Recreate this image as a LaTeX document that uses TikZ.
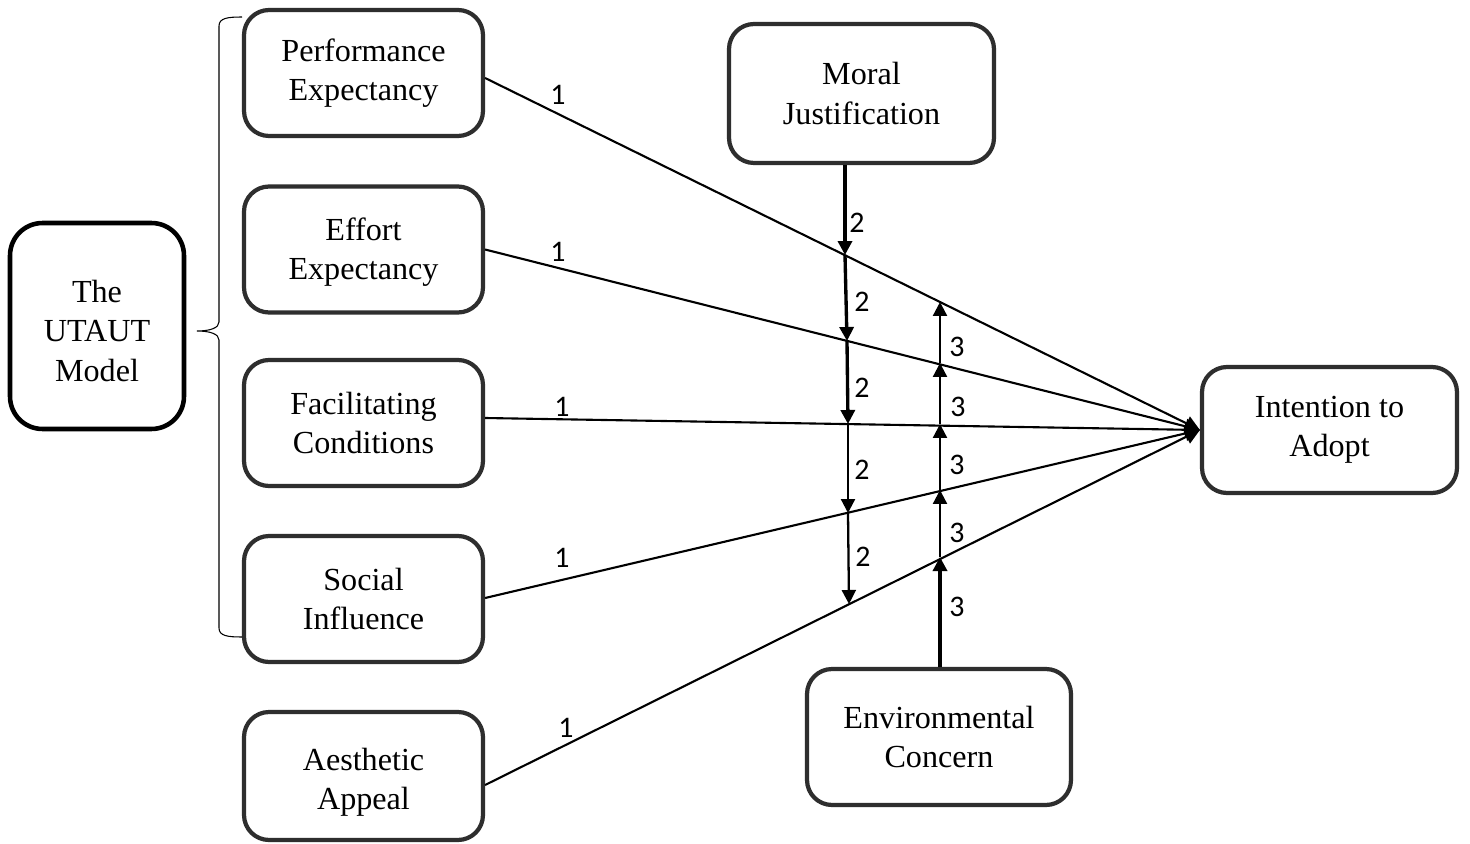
\documentclass[tikz,border=0pt]{standalone}
\usepackage{fontspec}
\setmainfont{Liberation Serif}
\newfontfamily\lblfont{Carlito}
\usetikzlibrary{arrows.meta,calc}
\begin{document}
\begin{tikzpicture}[x=0.02cm,y=-0.02cm,
  box/.style={draw=black!82,line width=2.4pt,rounded corners=0.5cm,align=center,
    font=\fontsize{18.3}{22.3}\selectfont,minimum width=4.78cm,minimum height=2.52cm,inner sep=0pt},
  boxtext/.style={align=center,font=\fontsize{18.3}{22.3}\selectfont,inner sep=0pt},
  conn/.style={line width=1.2pt,-{Triangle[length=0.3cm,width=0.3cm]}},
  mod/.style={line width=1.3pt,-{Triangle[length=0.28cm,width=0.28cm]}},
  modthick/.style={line width=1.9pt,-{Triangle[length=0.28cm,width=0.28cm]}},
  lbl/.style={font=\lblfont\fontsize{17}{20}\selectfont,inner sep=0pt}]
\useasboundingbox[fill=white] (0,0) rectangle (1470,844);

% nodes
\node[box,draw=black,line width=2.6pt,rounded corners=0.65cm,minimum width=3.48cm,minimum height=4.12cm] (UT) at (97,326) {};
\node[boxtext] (UTt) at (97,331) {The\\UTAUT\\Model};
\node[box] (PE) at (363.5,73) {Performance\\Expectancy};
\node[box] (EE) at (363.5,249.5) {};
\node[boxtext] (EEt) at (363.5,252) {Effort\\Expectancy};
\node[box] (FC) at (363.5,423) {Facilitating\\Conditions};
\node[box] (SI) at (363.5,599) {Social\\Influence};
\node[box,minimum height=2.56cm] (AA) at (363.5,776) {};
\node[boxtext] (AAt) at (363.5,782) {Aesthetic\\Appeal};
\node[box,minimum width=5.3cm,minimum height=2.78cm] (MJ) at (861.5,93.5) {Moral\\Justification};
\node[box,minimum width=5.28cm,minimum height=2.72cm] (EC) at (939,737) {Environmental\\Concern};
\node[box,minimum width=5.1cm] (ITA) at (1329.5,430) {Intention to\\Adopt};

% brace
\draw[line width=0.6pt] (242,17) .. controls (228,17) and (219,18) .. (219,26)
  -- (219,322) .. controls (219,328) and (210,331) .. (197,331)
  .. controls (210,331) and (219,334) .. (219,340)
  -- (219,628) .. controls (219,636) and (228,637) .. (242,637);

% main paths
\draw[conn] ($(PE.east)+(0,5)$) -- (ITA.west);
\draw[conn] (EE.east) -- (ITA.west);
\draw[conn] ($(FC.east)+(0,-5)$) -- (ITA.west);
\draw[conn] ($(SI.east)+(0,-1)$) -- (ITA.west);
\draw[conn] ($(AA.east)+(0,9)$) -- (ITA.west);

% moderator points
\coordinate (m0) at ($(MJ.south)+(-16.5,0)$);
\coordinate (m1) at (845,255);
\coordinate (m2) at (847,341);
\coordinate (m3) at (848,424);
\coordinate (m4) at (848,513);
\coordinate (m5) at (849,604);
\coordinate (e0) at ($(EC.north)+(1,0)$);
\coordinate (e1) at (940,557);
\coordinate (e2) at (940,490);
\coordinate (e3) at (940,424);
\coordinate (e4) at (940,363);
\coordinate (e5) at (940,302);

\draw[modthick] (m0) -- (m1);
\draw[modthick] (m1) -- (m2);
\draw[modthick] (m2) -- (m3);
\draw[mod] (m3) -- (m4);
\draw[mod] (m4) -- (m5);

\draw[modthick] (e0) -- (e1);
\draw[mod] (e1) -- (e2);
\draw[mod] (e2) -- (e3);
\draw[mod] (e3) -- (e4);
\draw[mod] (e4) -- (e5);

% labels
\node[lbl] (l1a) at (558,95) {1};
\node[lbl] (l1b) at (558,252) {1};
\node[lbl] (l1c) at (562,407) {1};
\node[lbl] (l1d) at (562,558) {1};
\node[lbl] (l1e) at (566,728) {1};

\node[lbl] (l2a) at (857,223) {2};
\node[lbl] (l2b) at (862,302) {2};
\node[lbl] (l2c) at (862,388) {2};
\node[lbl] (l2d) at (862,470) {2};
\node[lbl] (l2e) at (863,557) {2};

\node[lbl] (l3a) at (957,347) {3};
\node[lbl] (l3b) at (958,407) {3};
\node[lbl] (l3c) at (957,465) {3};
\node[lbl] (l3d) at (957,533) {3};
\node[lbl] (l3e) at (957,607) {3};
\end{tikzpicture}
\end{document}
